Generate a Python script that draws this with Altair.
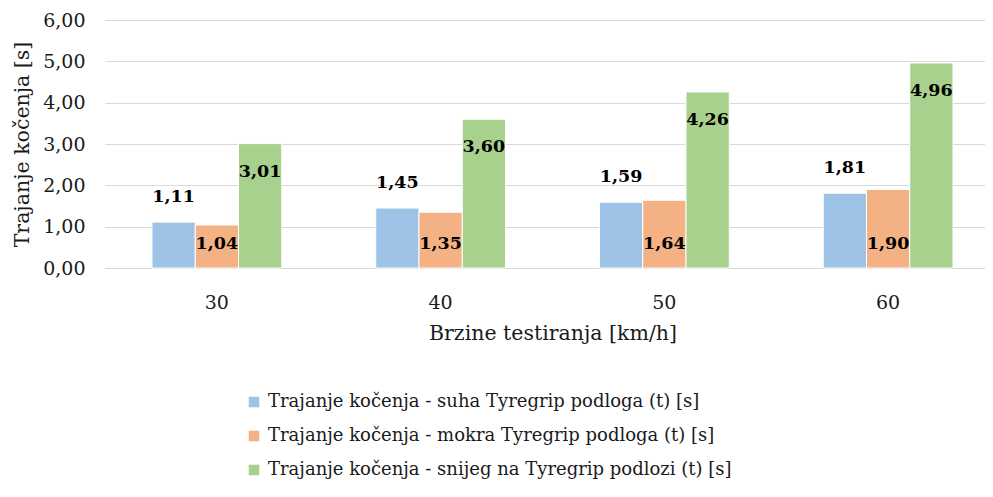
import altair as alt
import pandas as pd

speeds = ["30", "40", "50", "60"]
series_names = [
    "Trajanje kočenja - suha Tyregrip podloga (t) [s]",
    "Trajanje kočenja - mokra Tyregrip podloga (t) [s]",
    "Trajanje kočenja - snijeg na Tyregrip podlozi (t) [s]",
]
suha = [1.11, 1.45, 1.59, 1.81]
mokra = [1.04, 1.35, 1.64, 1.90]
snijeg = [3.01, 3.60, 4.26, 4.96]
colors = ["#9DC3E6", "#F4B183", "#A9D18E"]

rows = []
for name, vals in zip(series_names, [suha, mokra, snijeg]):
    for s, v in zip(speeds, vals):
        rows.append({"speed": s, "series": name, "value": v})
df = pd.DataFrame(rows)

FONT = "DejaVu Serif"
TXT = "#1a1a1a"

base = alt.Chart(df).transform_calculate(
    label="replace(format(datum.value, '.2f'), '.', ',')"
)

xscale = alt.Scale(paddingInner=0.42, paddingOuter=0.21, range=[0, 895])
x = alt.X("speed:N", sort=speeds, title="Brzine testiranja [km/h]",
          scale=xscale,
          axis=alt.Axis(labelAngle=0, labelFontSize=19, titleFontSize=20.5,
                        labelPadding=25, titlePadding=11, ticks=False,
                        domainColor="#D9D9D9", labelColor=TXT,
                        titleColor=TXT, titleFontWeight="normal"))
xoff = alt.XOffset("series:N", sort=series_names)

bars = base.mark_bar(stroke="white", strokeWidth=1).encode(
    x=x,
    xOffset=xoff,
    y=alt.Y("value:Q", title="Trajanje kočenja [s]",
            scale=alt.Scale(domain=[0, 6], nice=False),
            axis=alt.Axis(values=[0, 1, 2, 3, 4, 5, 6],
                          labelExpr="replace(format(datum.value, '.2f'), '.', ',')",
                          labelFontSize=19, titleFontSize=20.5, domain=False,
                          ticks=False, gridColor="#D9D9D9", labelPadding=20,
                          titlePadding=10, labelColor=TXT,
                          titleColor=TXT, titleFontWeight="normal")),
    color=alt.Color("series:N", sort=series_names,
                    scale=alt.Scale(domain=series_names, range=colors),
                    legend=alt.Legend(title=None, orient="none", direction="vertical",
                                      legendX=140, legendY=373,
                                      symbolType="square", symbolSize=110,
                                      symbolStrokeWidth=0, labelFontSize=18,
                                      labelColor=TXT,
                                      rowPadding=16, labelOffset=5,
                                      labelLimit=600)),
)

def labels(name, **kw):
    return base.transform_filter(alt.datum.series == name).mark_text(
        fontSize=17.5, fontWeight="bold", color="black",
        baseline="middle", **kw)

t1 = labels(series_names[0], dy=-25).encode(
    x=alt.X("speed:N", sort=speeds), xOffset=xoff, y="value:Q", text="label:N")
t2 = labels(series_names[1], dy=-24).encode(
    x=alt.X("speed:N", sort=speeds), xOffset=xoff, y=alt.datum(0), text="label:N")
t3 = labels(series_names[2], dy=28).encode(
    x=alt.X("speed:N", sort=speeds), xOffset=xoff, y="value:Q", text="label:N")

chart = alt.layer(bars, t1, t2, t3).properties(
    width=880, height=248,
    autosize=alt.AutoSizeParams(type="none"),
    padding={"left": 97, "top": 12, "right": 0, "bottom": 220},
).configure(background="white", font=FONT).configure_view(stroke=None).configure_axis(
    labelFont=FONT, titleFont=FONT).configure_legend(labelFont=FONT).configure_text(font=FONT)

chart.save("out.html", embed_options={"renderer": "svg", "actions": False})
